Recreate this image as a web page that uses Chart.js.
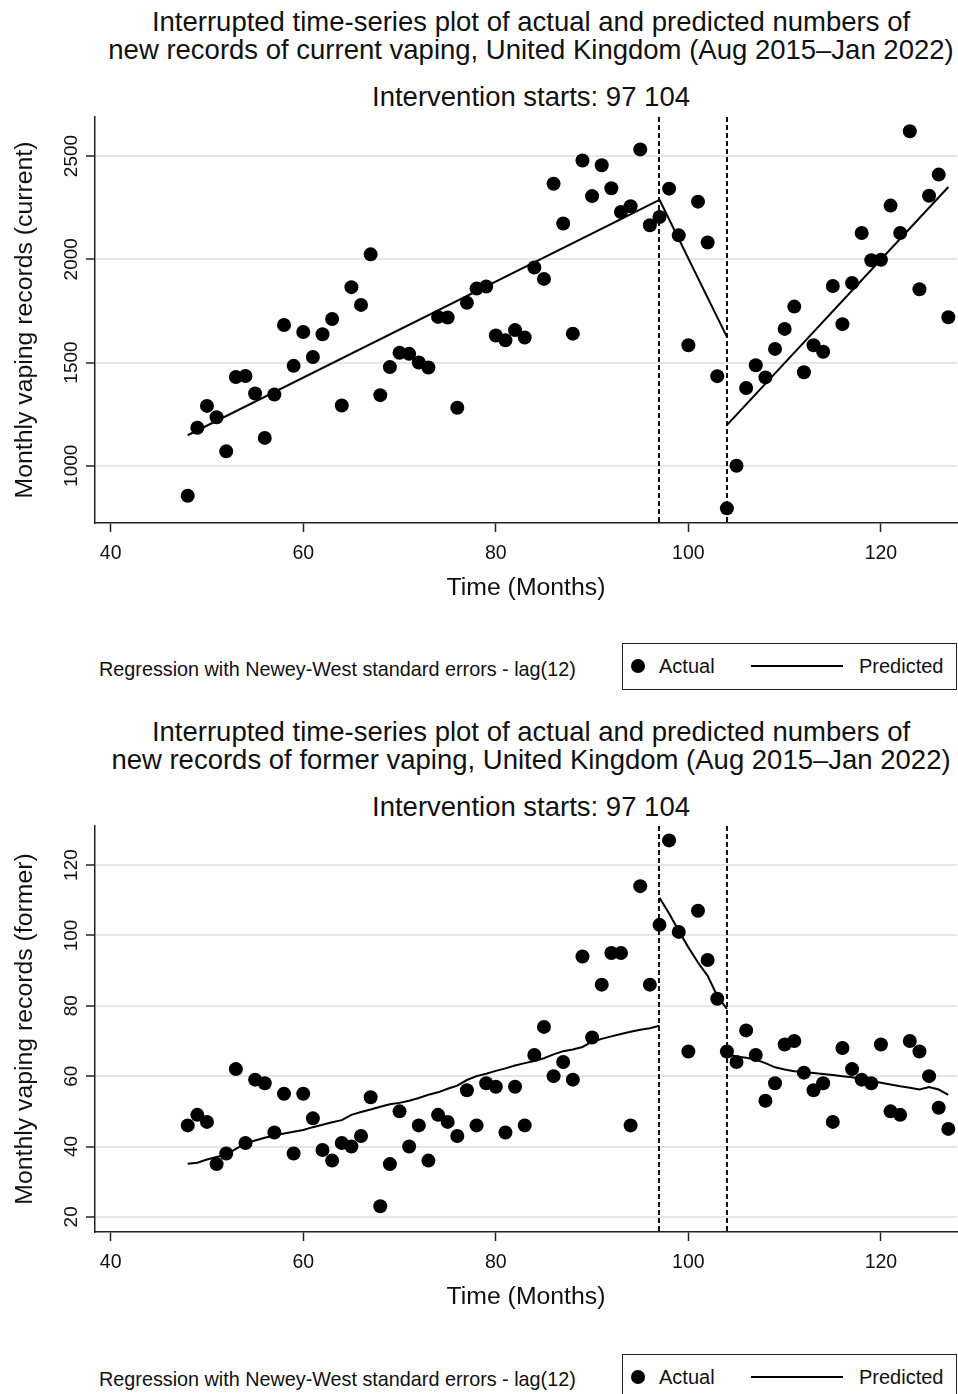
<!DOCTYPE html>
<html>
<head>
<meta charset="utf-8">
<script src="https://cdn.jsdelivr.net/npm/chart.js@4.4.0/dist/chart.umd.min.js"></script>
<style>
body{margin:0;width:958px;height:1394px;overflow:hidden;background:#fff;position:relative;
  font-family:"Liberation Sans",Arial,sans-serif;color:#111}
.t{position:absolute;left:31px;width:1000px;text-align:center;font-size:27.5px;line-height:28px;white-space:nowrap}
.note{position:absolute;left:99px;font-size:19.8px;line-height:24px;white-space:nowrap}
.legend{position:absolute;left:622px;width:333px;height:45px;border:1.5px solid #222}
.legend .dot{position:absolute;left:8px;top:15px;width:14px;height:14px;border-radius:50%;background:#000}
.legend .lab{position:absolute;top:10px;font-size:20px;line-height:24px;white-space:nowrap}
.legend .ln{position:absolute;left:128px;top:21px;width:92px;height:2px;background:#000}
canvas{position:absolute;left:0}
</style>
</head>
<body>

<div class="t" style="top:8px">Interrupted time-series plot of actual and predicted numbers of<br>new records of current vaping, United Kingdom (Aug 2015–Jan 2022)</div>
<div class="t" style="top:83px">Intervention starts: 97 104</div>
<canvas id="chartCurrent" width="958" height="505" style="top:105px"></canvas>
<div class="note" style="top:657px">Regression with Newey-West standard errors - lag(12)</div>
<div class="legend" style="top:643px"><span class="dot"></span><span class="lab" style="left:36px">Actual</span><span class="ln"></span><span class="lab" style="left:236px">Predicted</span></div>

<div class="t" style="top:718px">Interrupted time-series plot of actual and predicted numbers of<br>new records of former vaping, United Kingdom (Aug 2015–Jan 2022)</div>
<div class="t" style="top:793px">Intervention starts: 97 104</div>
<canvas id="chartFormer" width="958" height="505" style="top:814px"></canvas>
<div class="note" style="top:1367px">Regression with Newey-West standard errors - lag(12)</div>
<div class="legend" style="top:1354px"><span class="dot"></span><span class="lab" style="left:36px">Actual</span><span class="ln"></span><span class="lab" style="left:236px">Predicted</span></div>

<script>
// months since start (x axis)
let months = [48, 49, 50, 51, 52, 53, 54, 55, 56, 57, 58, 59, 60, 61, 62, 63, 64, 65, 66, 67,
  68, 69, 70, 71, 72, 73, 74, 75, 76, 77, 78, 79, 80, 81, 82, 83, 84, 85, 86, 87,
  88, 89, 90, 91, 92, 93, 94, 95, 96, 97, 98, 99, 100, 101, 102, 103, 104, 105, 106, 107,
  108, 109, 110, 111, 112, 113, 114, 115, 116, 117, 118, 119, 120, 121, 122, 123, 124, 125, 126, 127];
let interventionMonths = [97, 104];
let xTicks = [40, 60, 80, 100, 120];

// current vaping
let currentActual = [855, 1184, 1290, 1235, 1070, 1430, 1435, 1350, 1135, 1345, 1682, 1484, 1648, 1527, 1637, 1711, 1292, 1865, 1779, 2024,
  1342, 1478, 1547, 1542, 1500, 1476, 1721, 1718, 1281, 1789, 1858, 1868, 1631, 1608, 1657, 1621, 1960, 1905, 2366, 2173,
  1640, 2478, 2306, 2455, 2344, 2229, 2257, 2532, 2165, 2205, 2342, 2116, 1584, 2279, 2081, 1434, 794, 1000, 1377, 1487,
  1428, 1566, 1663, 1771, 1453, 1584, 1552, 1871, 1686, 1885, 2127, 1995, 1998, 2260, 2127, 2620, 1855, 2308, 2410, 1719];
let currentPredPreX = [48, 97];
let currentPredPre = [1148, 2288];
let currentPredMidX = [97, 104];
let currentPredMid = [2288, 1624];
let currentPredPostX = [104, 127];
let currentPredPost = [1197, 2350];
let currentYTicks = [1000, 1500, 2000, 2500];

// former vaping
let formerActual = [46, 49, 47, 35, 38, 62, 41, 59, 58, 44, 55, 38, 55, 48, 39, 36, 41, 40, 43, 54,
  23, 35, 50, 40, 46, 36, 49, 47, 43, 56, 46, 58, 57, 44, 57, 46, 66, 74, 60, 64,
  59, 94, 71, 86, 95, 95, 46, 114, 86, 103, 127, 101, 67, 107, 93, 82, 67, 64, 73, 66,
  53, 58, 69, 70, 61, 56, 58, 47, 68, 62, 59, 58, 69, 50, 49, 70, 67, 60, 51, 45];
let formerPredPre = [35.1, 35.4, 36.3, 37.0, 37.7, 39.3, 40.9, 41.7, 42.5, 43.1,
  43.7, 44.2, 44.7, 45.5, 46.2, 46.9, 47.5, 49.0, 49.8, 50.5,
  51.3, 52.0, 52.4, 53.0, 53.8, 54.7, 55.4, 56.4, 57.3, 58.9,
  60.0, 60.7, 61.5, 62.2, 63.0, 63.7, 64.3, 65.1, 66.2, 67.1,
  67.6, 68.3, 69.8, 70.6, 71.3, 72.0, 72.6, 73.2, 73.6, 74.3];
let formerPredMid = [110.7, 106.2, 101.3, 96.6, 92.3, 88.5, 82.8, 79.1];
let formerPredPost = [66.3, 65.6, 65.2, 64.7, 63.7, 62.5, 61.9, 61.4, 61.1, 60.9, 60.6, 60.3,
  60.0, 59.7, 59.2, 58.6, 58.1, 57.6, 57.1, 56.7, 56.2, 56.9, 56.2, 54.7];
let formerYTicks = [20, 40, 60, 80, 100, 120];

Chart.defaults.font.family = '"Liberation Sans", Arial, sans-serif';
Chart.defaults.color = '#111';

// dashed lines at the intervention months
const interventionLines = {
  id: 'interventionLines',
  beforeDatasetsDraw(chart) {
    const { ctx, chartArea, scales } = chart;
    ctx.save();
    ctx.strokeStyle = '#111';
    ctx.lineWidth = 2;
    ctx.setLineDash([5, 3]);
    interventionMonths.forEach((m) => {
      const x = Math.round(scales.x.getPixelForValue(m));
      ctx.beginPath();
      ctx.moveTo(x, chartArea.top);
      ctx.lineTo(x, chartArea.bottom);
      ctx.stroke();
    });
    ctx.restore();
  },
};

function lineSet(xs, ys) {
  return {
    data: xs.map((m, i) => ({ x: m, y: ys[i] })),
    showLine: true,
    borderColor: '#000',
    borderWidth: 2,
    pointRadius: 0,
    fill: false,
    tension: 0,
  };
}

function makeChart(id, cfg) {
  return new Chart(document.getElementById(id), {
    type: 'scatter',
    data: {
      datasets: [
        {
          data: months.map((m, i) => ({ x: m, y: cfg.actual[i] })),
          backgroundColor: '#000',
          borderWidth: 0,
          pointRadius: 7,
          pointHoverRadius: 7,
        },
      ].concat(cfg.lines.map((l) => lineSet(l[0], l[1]))),
    },
    options: {
      responsive: false,
      animation: false,
      layout: { autoPadding: false, padding: { top: 12, left: 0, right: 1, bottom: 0 } },
      plugins: { legend: { display: false }, tooltip: { enabled: false } },
      scales: {
        x: {
          type: 'linear',
          min: 38.37,
          max: 127.9,
          afterFit: (s) => { s.height = 87; },
          afterBuildTicks: (s) => { s.ticks = xTicks.map((v) => ({ value: v })); },
          grid: { drawOnChartArea: false, tickLength: 9, tickColor: '#222', tickWidth: 1.5 },
          border: { color: '#222', width: 1.5 },
          ticks: { font: { size: 19.5 }, padding: 10, maxRotation: 0, callback: (v) => String(v) },
          title: { display: true, text: 'Time (Months)', font: { size: 24.8 }, padding: { top: 0, bottom: 7 } },
        },
        y: {
          min: cfg.yMin,
          max: cfg.yMax,
          afterFit: (s) => { s.width = 95; },
          afterBuildTicks: (s) => { s.ticks = cfg.yTicks.map((v) => ({ value: v })); },
          grid: { color: '#e6e6e6', lineWidth: 2, tickLength: 9, tickColor: '#222', tickWidth: 1.5 },
          border: { color: '#222', width: 1.5 },
          ticks: { font: { size: 19 }, minRotation: 90, maxRotation: 90, crossAlign: 'center', padding: cfg.yPad, callback: (v) => String(v) },
          title: { display: true, text: cfg.yTitle, font: { size: 24.8 }, padding: { top: 10, bottom: 0 } },
        },
      },
    },
    plugins: [interventionLines],
  });
}

makeChart('chartCurrent', {
  actual: currentActual,
  lines: [[currentPredPreX, currentPredPre], [currentPredMidX, currentPredMid], [currentPredPostX, currentPredPost]],
  yMin: 723,
  yMax: 2689,
  yTicks: currentYTicks,
  yPad: -7,
  yTitle: 'Monthly vaping records (current)',
});

makeChart('chartFormer', {
  actual: formerActual,
  lines: [
    [months.slice(0, 50), formerPredPre],
    [months.slice(49, 57), formerPredMid],
    [months.slice(56), formerPredPost],
  ],
  yMin: 15.7,
  yMax: 131.1,
  yTicks: formerYTicks,
  yPad: -2,
  yTitle: 'Monthly vaping records (former)',
});
</script>
</body>
</html>
